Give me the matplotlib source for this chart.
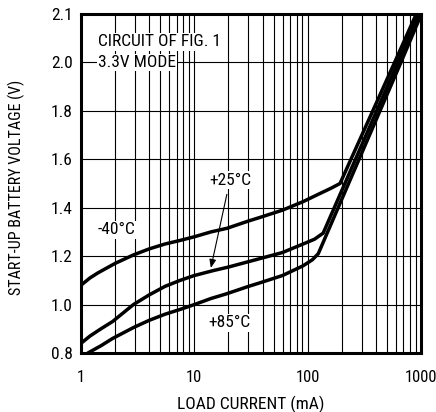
import numpy as np
import matplotlib
matplotlib.use('Agg')
import matplotlib.pyplot as plt
from matplotlib.ticker import LogLocator, FixedLocator, FixedFormatter, NullLocator, NullFormatter

plt.rcParams['font.family'] = ['Roboto Condensed', 'DejaVu Sans']

# ---- data (load current in mA, start-up battery voltage in V) ----
current_m40 = [1, 1.2, 1.4, 2, 2.9, 4, 5.5, 7.5, 10, 14, 19.4, 30, 38, 60, 91, 130, 160, 193, 585, 1000]
volt_m40 = [1.08, 1.11, 1.13, 1.17, 1.205, 1.23, 1.25, 1.265, 1.28, 1.30, 1.315, 1.345, 1.36, 1.39, 1.425, 1.46, 1.48, 1.50, 2.0, 2.122]

current_25 = [1, 1.2, 1.5, 1.9, 2.9, 4, 5.5, 7.5, 10, 14.6, 20, 38, 60, 91, 115, 137, 625, 1000]
volt_25 = [0.84, 0.87, 0.90, 0.93, 1.0, 1.04, 1.075, 1.10, 1.12, 1.14, 1.155, 1.19, 1.215, 1.25, 1.27, 1.295, 2.0, 2.11]

current_85 = [1.15, 1.5, 1.9, 2.9, 4, 5.5, 7.5, 10, 14, 19.4, 30, 38, 60, 91, 110, 124, 665, 1000]
volt_85 = [0.80, 0.83, 0.86, 0.905, 0.935, 0.96, 0.98, 1.0, 1.025, 1.045, 1.075, 1.09, 1.12, 1.16, 1.185, 1.21, 2.0, 2.098]

x_ticks = [1, 10, 100, 1000]
x_tick_labels = ['1', '10', '100', '1000']
y_ticks = [0.8, 1.0, 1.2, 1.4, 1.6, 1.8, 2.0, 2.1]
y_tick_labels = ['0.8', '1.0', '1.2', '1.4', '1.6', '1.8', '2.0', '2.1']


# the top interval (2.0-2.1) is drawn twice as tall as the others
def fwd(v):
    v = np.asarray(v, dtype=float)
    return np.where(v <= 2.0, v, 2.0 + (v - 2.0) * 2.0)


def inv(d):
    d = np.asarray(d, dtype=float)
    return np.where(d <= 2.0, d, 2.0 + (d - 2.0) / 2.0)


fig = plt.figure(figsize=(4.36, 4.12), dpi=100)
ax = fig.add_axes([81 / 436, 1 - 353 / 412, 340 / 436, 339 / 412])
ax.set_xscale('log')
ax.set_yscale('function', functions=(fwd, inv))
ax.set_xlim(1, 1000)
ax.set_ylim(0.8, 2.1)

ax.xaxis.set_major_locator(FixedLocator(x_ticks))
ax.xaxis.set_major_formatter(FixedFormatter(x_tick_labels))
ax.xaxis.set_minor_locator(LogLocator(base=10, subs=np.arange(2, 10)))
ax.xaxis.set_minor_formatter(NullFormatter())
ax.yaxis.set_major_locator(FixedLocator(y_ticks))
ax.yaxis.set_major_formatter(FixedFormatter(y_tick_labels))
ax.yaxis.set_minor_locator(NullLocator())

ax.grid(which='both', axis='x', color='black', lw=0.8, zorder=1)
ax.grid(which='major', axis='y', color='black', lw=0.8, zorder=1)
ax.set_axisbelow(True)

ax.tick_params(axis='x', which='both', length=0, pad=12, labelsize=12, colors='black')
ax.tick_params(axis='y', which='both', length=0, pad=6, labelsize=12.5, colors='black')

for s in ax.spines.values():
    s.set_linewidth(2.2)
    s.set_color('black')
    s.set_zorder(5)

for cx, vy in [(current_m40, volt_m40), (current_25, volt_25), (current_85, volt_85)]:
    ax.plot(cx, vy, color='black', lw=2.5, solid_joinstyle='round', solid_capstyle='round', zorder=3)

box = dict(facecolor='white', edgecolor='none', pad=1.0)
ax.text(0.05, 0.918, 'CIRCUIT OF FIG. 1', transform=ax.transAxes, fontsize=12.5,
        ha='left', va='center', bbox=box, zorder=4)
ax.text(0.05, 0.857, '3.3V MODE', transform=ax.transAxes, fontsize=12.5,
        ha='left', va='center', bbox=box, zorder=4)
ax.text(0.05, 0.363, '-40°C', transform=ax.transAxes, fontsize=12.5,
        ha='left', va='center', bbox=box, zorder=4)
ax.text(0.438, 0.510, '+25°C', transform=ax.transAxes, fontsize=12.5,
        ha='center', va='center', bbox=box, zorder=4)
ax.text(0.435, 0.0885, '+85°C', transform=ax.transAxes, fontsize=12.5,
        ha='center', va='center', bbox=box, zorder=4)

ax.annotate('', xy=(0.382, 0.251), xytext=(0.429, 0.468),
            xycoords='axes fraction', textcoords='axes fraction',
            arrowprops=dict(arrowstyle='-|>,head_length=0.5,head_width=0.2',
                            color='black', lw=0.8, shrinkA=0, shrinkB=0),
            zorder=4)

ax.set_xlabel('LOAD CURRENT (mA)', fontsize=12.5)
ax.set_ylabel('START-UP BATTERY VOLTAGE (V)', fontsize=11.5)
ax.xaxis.set_label_coords(0.5, (353 - 396) / 339)
ax.yaxis.set_label_coords((25 - 81) / 340, (353 - 187) / 339)

fig.savefig('out.png', dpi=100)
